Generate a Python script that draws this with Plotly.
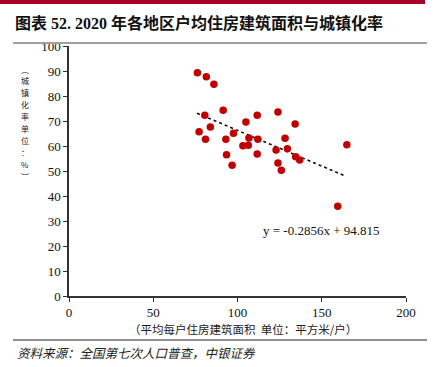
import plotly.graph_objects as go

# Data: average housing floor area per household (m2) vs urbanization rate (%)
area = [76.2, 81.5, 86.0, 91.5, 80.6, 77.2, 83.9, 81.0, 93.1, 97.6,
        105.0, 111.7, 124.0, 134.2, 106.8, 112.1, 103.2, 106.4, 93.5, 96.8,
        111.7, 128.2, 122.9, 129.6, 124.0, 126.0, 134.5, 136.9, 164.9, 159.5]
urban = [89.3, 87.7, 84.7, 74.3, 72.3, 65.7, 67.6, 62.7, 62.7, 65.1,
         69.6, 72.3, 73.6, 68.8, 63.2, 62.7, 60.1, 60.3, 56.5, 52.3,
         56.8, 63.1, 58.4, 58.9, 53.2, 50.3, 55.7, 54.4, 60.5, 35.9]
slope, intercept = -0.2856, 94.815
trend_x = [76.0, 164.5]
trend_y = [slope * v + intercept for v in trend_x]

x_ticks = [0, 50, 100, 150, 200]
y_ticks = [0, 10, 20, 30, 40, 50, 60, 70, 80, 90, 100]
y_title_chars = ["︵", "城", "镇", "化", "率", "单", "位", "：", "%", "︶"]

W, H = 438, 367
L, R, T, B = 69, 406, 46, 296

def px(x):
    return (x - L) / (R - L)

def py(y):
    return (B - y) / (B - T)

SERIF = "Liberation Serif, Noto Sans CJK SC"
CJK = "Noto Sans CJK SC, Liberation Serif"

fig = go.Figure()
fig.add_trace(go.Scatter(x=trend_x, y=trend_y, mode="lines",
                         line=dict(color="#111111", width=1.6, dash="dot"),
                         hoverinfo="skip", showlegend=False))
fig.add_trace(go.Scatter(x=area, y=urban, mode="markers",
                         marker=dict(color="#C00000", size=7.5),
                         showlegend=False))

fig.update_layout(
    width=W, height=H,
    margin=dict(l=L, r=W - R, t=T, b=H - B),
    paper_bgcolor="white", plot_bgcolor="white",
    xaxis=dict(range=[0, 200], tickvals=x_ticks, showgrid=False, zeroline=False,
               showline=True, linecolor="#333333", linewidth=1.5,
               ticks="outside", ticklen=4, tickcolor="#333333", tickwidth=1.2,
               tickfont=dict(family=SERIF, size=13, color="#111111")),
    yaxis=dict(range=[0, 100], tickvals=y_ticks, showgrid=False, zeroline=False,
               showline=True, linecolor="#333333", linewidth=1.5,
               ticks="outside", ticklen=4, tickcolor="#333333", tickwidth=1.2,
               tickfont=dict(family=SERIF, size=13, color="#111111")),
)

shapes = [
    dict(type="rect", xref="paper", yref="paper", x0=px(0), x1=px(425), y0=py(0), y1=py(4),
         fillcolor="#A8002B", line=dict(width=0)),
    dict(type="line", xref="paper", yref="paper", x0=px(13), x1=px(427), y0=py(43), y1=py(43),
         line=dict(color="#A0A0A0", width=2)),
    dict(type="line", xref="paper", yref="paper", x0=px(13), x1=px(427), y0=py(340), y1=py(340),
         line=dict(color="#222222", width=1.2)),
]
fig.update_layout(shapes=shapes)

ann = []
ann.append(dict(text="<b>图表 52. 2020 年各地区户均住房建筑面积与城镇化率</b>", xref="paper", yref="paper",
                x=px(13), y=py(23), xanchor="left", yanchor="middle", showarrow=False,
                font=dict(family=SERIF, size=16, color="#111111")))
ann.append(dict(text="（平均每户住房建筑面积  单位：平方米/户）", xref="paper", yref="paper",
                x=px(243), y=py(329), xanchor="center", yanchor="middle", showarrow=False,
                font=dict(family=CJK, size=11.5, color="#222222")))
ann.append(dict(text="<i>资料来源：全国第七次人口普查，中银证券</i>", xref="paper", yref="paper",
                x=px(15), y=py(352), xanchor="left", yanchor="middle", showarrow=False,
                font=dict(family=CJK, size=12.5, color="#222222")))
ann.append(dict(text="y = -0.2856x + 94.815", xref="paper", yref="paper",
                x=px(321), y=py(230), xanchor="center", yanchor="middle", showarrow=False,
                font=dict(family=SERIF, size=13, color="#111111")))

for i, ch in enumerate(y_title_chars):
    ann.append(dict(text=ch, xref="paper", yref="paper", x=px(25), y=py(69 + i * 11.9),
                    xanchor="center", yanchor="middle", showarrow=False,
                    font=dict(family=CJK, size=8, color="#222222")))
fig.update_layout(annotations=ann)

fig.write_html("out.html", config={"displayModeBar": False},
               post_script="document.body.style.margin='0px';")
